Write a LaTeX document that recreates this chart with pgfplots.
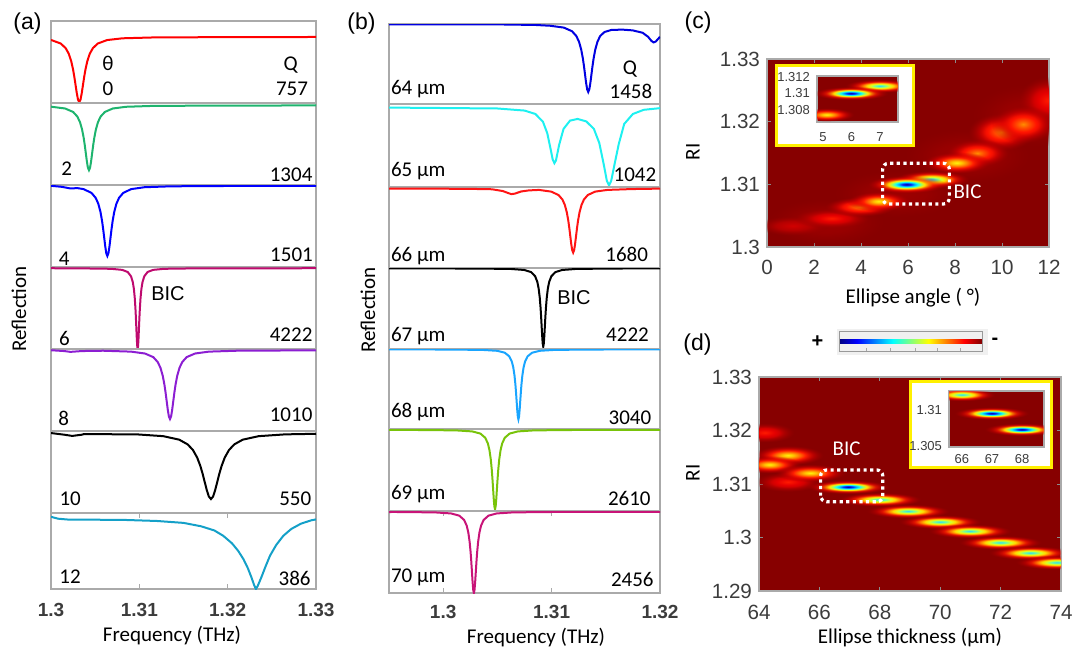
\documentclass[border=0pt]{standalone}
\usepackage{pgfplots}
\pgfplotsset{compat=1.18}
\usetikzlibrary{fadings}
\usepackage{fontspec}
\setmainfont{Carlito}
\newfontfamily\arial{Liberation Sans}
\newcommand{\lab}{\fontsize{10.5}{12}\selectfont}

\definecolor{cA1}{RGB}{255,0,0}
\definecolor{cA2}{RGB}{30,180,110}
\definecolor{cA3}{RGB}{0,0,255}
\definecolor{cA4}{RGB}{190,10,110}
\definecolor{cA5}{RGB}{140,30,210}
\definecolor{cA6}{RGB}{0,0,0}
\definecolor{cA7}{RGB}{20,160,200}
\definecolor{cB1}{RGB}{0,0,225}
\definecolor{cB2}{RGB}{30,240,240}
\definecolor{cB3}{RGB}{255,20,20}
\definecolor{cB4}{RGB}{0,0,0}
\definecolor{cB5}{RGB}{25,165,255}
\definecolor{cB6}{RGB}{120,195,10}
\definecolor{cB7}{RGB}{200,20,120}
\definecolor{bgred}{RGB}{135,0,0}
\definecolor{framegray}{RGB}{170,170,170}
\definecolor{ticktext}{RGB}{60,60,60}
\definecolor{insetyellow}{RGB}{255,240,0}

\pgfdeclareradialshading{spot5}{\pgfpointorigin}{rgb(0bp)=(0,0,0.6); rgb(3bp)=(0,0.2,1); rgb(5bp)=(0,0.7,1); rgb(7bp)=(0.1,1,0.95); rgb(9bp)=(0.6,1,0.4); rgb(11bp)=(1,0.9,0); rgb(13.5bp)=(1,0.5,0); rgb(16.5bp)=(1,0.1,0); rgb(20bp)=(0.85,0,0); rgb(25bp)=(0.6,0,0); rgb(50bp)=(0.6,0,0)}
\pgfdeclareradialshading{spot4}{\pgfpointorigin}{rgb(0bp)=(0.2,0.85,0.95); rgb(3.5bp)=(0.45,1,0.6); rgb(6.5bp)=(0.85,1,0.15); rgb(9bp)=(1,0.85,0); rgb(12bp)=(1,0.45,0); rgb(15.5bp)=(1,0.1,0); rgb(19.5bp)=(0.85,0,0); rgb(25bp)=(0.6,0,0); rgb(50bp)=(0.6,0,0)}
\pgfdeclareradialshading{spot3}{\pgfpointorigin}{rgb(0bp)=(1,0.95,0.05); rgb(4bp)=(1,0.75,0); rgb(8bp)=(1,0.45,0); rgb(12bp)=(1,0.12,0); rgb(18bp)=(0.85,0,0); rgb(25bp)=(0.6,0,0); rgb(50bp)=(0.6,0,0)}
\pgfdeclareradialshading{spot2}{\pgfpointorigin}{rgb(0bp)=(1,0.55,0); rgb(5bp)=(1,0.3,0); rgb(10bp)=(1,0.08,0); rgb(17bp)=(0.82,0,0); rgb(25bp)=(0.6,0,0); rgb(50bp)=(0.6,0,0)}
\pgfdeclareradialshading{spot1}{\pgfpointorigin}{rgb(0bp)=(1,0.1,0); rgb(8bp)=(0.9,0,0); rgb(16bp)=(0.74,0,0); rgb(25bp)=(0.6,0,0); rgb(50bp)=(0.6,0,0)}
\pgfdeclareradialshading{spot0}{\pgfpointorigin}{rgb(0bp)=(0.82,0,0); rgb(12bp)=(0.7,0,0); rgb(25bp)=(0.58,0,0); rgb(50bp)=(0.58,0,0)}
\pgfdeclareradialshading{spot9}{\pgfpointorigin}{rgb(0bp)=(0.62,0,0); rgb(25bp)=(0.56,0,0); rgb(50bp)=(0.56,0,0)}
\pgfdeclareradialshading{fadeshade}{\pgfpointorigin}{color(0bp)=(white); color(12bp)=(white); color(25bp)=(black); color(50bp)=(black)}
\pgfdeclarefading{spotfade}{\pgfuseshading{fadeshade}}
\pgfdeclarehorizontalshading{jetbar}{10bp}{rgb(0bp)=(0,0,0.5); rgb(25bp)=(0,0,0.5); rgb(31.25bp)=(0,0,1); rgb(43.75bp)=(0,1,1); rgb(56.25bp)=(1,1,0); rgb(68.75bp)=(1,0,0); rgb(75bp)=(0.5,0,0); rgb(100bp)=(0.5,0,0)}

\pgfdeclareplotmark{spot}{%
  \pgfscope
  \pgfpathellipse{\pgfpointorigin}{\pgfqpoint{\spotw pt}{0pt}}{\pgfqpoint{0pt}{\spoth pt}}%
  \pgfsetfadingforcurrentpath{spotfade}{}%
  \pgfshadepath{spot\spotlvl}{0}%
  \pgfusepath{discard}%
  \endpgfscope
}

\tikzset{bicbox/.style={white, line width=1.6pt, dash pattern=on 1.6pt off 1.7pt, rounded corners=3pt}}

\pgfplotsset{
  panel/.style={scale only axis, anchor=south west, xmin=1.3, xmax=1.33, ymin=0, ymax=1,
    width=132.5pt, xtick=\empty, ytick=\empty,
    axis line style={framegray, line width=0.6pt}},
  panelB/.style={panel, xmin=1.295, xmax=1.32, width=135.5pt},
  curve/.style={line width=1pt, no marks},
  freqticks/.style={tick align=inside, major tick length=2.5pt,
    tick style={framegray, line width=0.5pt},
    xticklabel style={font=\arial\bfseries\fontsize{9.5}{11}\selectfont, text=ticktext, anchor=center}},
  heat/.style={scale only axis, anchor=south west, axis background/.style={fill=bgred},
    axis line style={framegray, line width=0.6pt}, tick align=inside, major tick length=2pt,
    tick style={black!45, line width=0.4pt}, clip marker paths=true,
    tick label style={font=\arial\fontsize{10.3}{12}\selectfont, text=ticktext}},
  inset/.style={heat, major tick length=0pt, tick label style={font=\arial\fontsize{6.5}{7.5}\selectfont}},
  spots/.style={only marks, scatter, mark=spot,
    visualization depends on=value \thisrow{w}\as\spotw,
    visualization depends on=value \thisrow{h}\as\spoth,
    visualization depends on=value \thisrow{lvl}\as\spotlvl},
}

\begin{document}
\begin{tikzpicture}
\useasboundingbox (0,0) rectangle (538.5pt,325pt);

% ---------------- panel (a) ----------------
\begin{axis}[panel, at={(25.5pt,273.5pt)}, height=41pt]
\addplot[curve, cA1] coordinates {(1.3000,0.769)(1.3011,0.7255)(1.30166,0.669)(1.30201,0.601)(1.30229,0.510)(1.3025,0.4075)(1.30264,0.320)(1.30278,0.220)(1.30292,0.120)(1.30306,0.041)(1.3032,0.010)(1.30334,0.041)(1.30348,0.120)(1.30362,0.220)(1.30376,0.320)(1.3039,0.4075)(1.30411,0.510)(1.30439,0.601)(1.30474,0.669)(1.3053,0.7255)(1.30635,0.7676)(1.3081,0.789)(1.3116,0.7995)(1.3207,0.8037)(1.33,0.805)};
\end{axis}
\begin{axis}[panel, at={(25.5pt,232.5pt)}, height=41pt]
\addplot[curve, cA2] coordinates {(1.3000,0.955)(1.3016,0.933)(1.3025,0.891)(1.30298,0.835)(1.30328,0.767)(1.30352,0.676)(1.3037,0.575)(1.30382,0.488)(1.30394,0.389)(1.30406,0.289)(1.30418,0.210)(1.3043,0.18)(1.30442,0.210)(1.30454,0.289)(1.30466,0.389)(1.30478,0.488)(1.3049,0.575)(1.30508,0.676)(1.30532,0.767)(1.30562,0.835)(1.3061,0.891)(1.307,0.933)(1.3085,0.954)(1.3115,0.9645)(1.3193,0.9687)(1.33,0.97)};
\end{axis}
\begin{axis}[panel, at={(25.5pt,191.5pt)}, height=41pt]
\addplot[curve, cA3] coordinates {(1.3000,0.99)(1.3012,0.978)(1.3022,0.958)(1.3030,0.962)(1.30368,0.95)(1.30458,0.904)(1.30506,0.843)(1.30536,0.77)(1.3056,0.672)(1.30578,0.562)(1.3059,0.468)(1.30602,0.361)(1.30614,0.252)(1.30626,0.167)(1.30638,0.134)(1.3065,0.167)(1.30662,0.252)(1.30674,0.361)(1.30686,0.468)(1.30698,0.562)(1.30716,0.672)(1.3074,0.77)(1.3077,0.843)(1.30818,0.904)(1.30908,0.95)(1.31058,0.973)(1.31358,0.984)(1.32138,0.989)(1.33,0.99)};
\end{axis}
\begin{axis}[panel, at={(25.5pt,150.5pt)}, height=41pt]
\addplot[curve, cA4] coordinates {(1.3,0.985)(1.30356,0.983)(1.30681,0.978)(1.30806,0.965)(1.308685,0.939)(1.30906,0.8865)(1.30926,0.816)(1.309385,0.732)(1.309485,0.619)(1.30956,0.4925)(1.30961,0.384)(1.30966,0.261)(1.30971,0.136)(1.30976,0.038)(1.30981,0)(1.30986,0.038)(1.30991,0.136)(1.30996,0.261)(1.31001,0.384)(1.31006,0.4925)(1.310135,0.619)(1.310235,0.732)(1.31036,0.816)(1.31056,0.8865)(1.310935,0.939)(1.31156,0.965)(1.31281,0.978)(1.31606,0.983)(1.33,0.985)};
\end{axis}
\begin{axis}[panel, at={(25.5pt,109.5pt)}, height=41pt]
\addplot[curve, cA5] coordinates {(1.3,0.985)(1.3015,0.975)(1.3022,0.965)(1.3035,0.975)(1.30591,0.979)(1.30906,0.968)(1.310635,0.945)(1.31158,0.901)(1.312084,0.841)(1.312399,0.769)(1.312651,0.673)(1.31284,0.5655)(1.312966,0.473)(1.313092,0.368)(1.313218,0.262)(1.313344,0.178)(1.31347,0.146)(1.313596,0.178)(1.313722,0.262)(1.313848,0.368)(1.313974,0.473)(1.3141,0.5655)(1.314289,0.673)(1.314541,0.769)(1.314856,0.841)(1.31536,0.901)(1.316305,0.945)(1.31788,0.968)(1.32103,0.979)(1.33,0.984)};
\end{axis}
\begin{axis}[panel, at={(25.5pt,68.5pt)}, height=41pt]
\addplot[curve, cA6] coordinates {(1.3,0.975)(1.3015,0.955)(1.3024,0.94)(1.3035,0.955)(1.30371,0.962)(1.30971,0.959)(1.31271,0.937)(1.31451,0.8945)(1.31547,0.837)(1.31607,0.768)(1.31655,0.6758)(1.31691,0.5725)(1.31715,0.484)(1.31739,0.383)(1.31763,0.281)(1.31787,0.201)(1.31811,0.17)(1.31835,0.201)(1.31859,0.281)(1.31883,0.383)(1.31907,0.484)(1.31931,0.5725)(1.31967,0.6758)(1.32015,0.768)(1.32075,0.837)(1.32171,0.8945)(1.32351,0.937)(1.32651,0.959)(1.33,0.966)};
\end{axis}
\begin{axis}[panel, at={(25.5pt,30.5pt)}, height=38pt, freqticks,
  xtick={1.3,1.31,1.32,1.33}, xticklabels={1.3,1.31,1.32,1.33},
  xticklabel style={yshift=-10.5pt}]
\addplot[curve, cA7] coordinates {(1.3000,0.95)(1.3008,0.925)(1.3020,0.913)(1.3080,0.910)(1.3120,0.895)(1.3150,0.870)(1.3170,0.825)(1.3185,0.770)(1.3195,0.700)(1.3205,0.600)(1.3212,0.500)(1.3218,0.390)(1.3223,0.270)(1.3227,0.150)(1.3230,0.050)(1.3232,0.000)(1.3234,0.040)(1.3238,0.150)(1.3243,0.300)(1.3248,0.440)(1.3255,0.580)(1.3263,0.700)(1.3272,0.790)(1.3283,0.860)(1.3295,0.905)(1.3300,0.915)};
\end{axis}

% ---------------- panel (b) ----------------
\begin{axis}[panelB, at={(194.5pt,273pt)}, height=40pt]
\addplot[curve, cB1] coordinates {(1.295,0.996)(1.305,0.995)(1.3085,0.988)(1.30988,0.978)(1.31113,0.955)(1.31188,0.91)(1.31228,0.85)(1.31253,0.778)(1.31273,0.681)(1.31288,0.5725)(1.31298,0.48)(1.31308,0.374)(1.31318,0.267)(1.31328,0.183)(1.31338,0.15)(1.31348,0.183)(1.31358,0.267)(1.31368,0.374)(1.31378,0.48)(1.31388,0.5725)(1.31403,0.681)(1.31423,0.778)(1.31448,0.85)(1.31488,0.90)(1.3155,0.925)(1.3165,0.93)(1.3175,0.92)(1.3184,0.89)(1.3189,0.84)(1.3192,0.79)(1.3194,0.77)(1.3196,0.78)(1.3198,0.81)(1.3200,0.84)};
\end{axis}
\begin{axis}[panelB, at={(194.5pt,231.5pt)}, height=41.5pt]
\addplot[curve, cB2] coordinates {(1.295,0.957)(1.305,0.946)(1.3075,0.921)(1.3085,0.880)(1.3092,0.787)(1.3096,0.648)(1.3099,0.462)(1.3101,0.332)(1.31026,0.287)(1.3104,0.3195)(1.3107,0.51)(1.3111,0.70)(1.3117,0.80)(1.3124,0.82)(1.3132,0.79)(1.3139,0.70)(1.3144,0.53)(1.3148,0.279)(1.3151,0.073)(1.3153,0.019)(1.3155,0.075)(1.3158,0.27)(1.3162,0.52)(1.3167,0.76)(1.3175,0.88)(1.3185,0.93)(1.32,0.95)};
\end{axis}
\begin{axis}[panelB, at={(194.5pt,191pt)}, height=40.5pt]
\addplot[curve, cB3] coordinates {(1.295,0.98)(1.302,0.978)(1.3045,0.972)(1.3055,0.95)(1.3060,0.925)(1.30629,0.912)(1.3066,0.918)(1.3072,0.945)(1.3079,0.958)(1.30884,0.964)(1.309965,0.943)(1.31064,0.901)(1.311,0.845)(1.311225,0.777)(1.311405,0.686)(1.31154,0.585)(1.31163,0.498)(1.31172,0.399)(1.31181,0.299)(1.3119,0.2204)(1.31199,0.19)(1.31208,0.2204)(1.31217,0.299)(1.31226,0.399)(1.31235,0.498)(1.31244,0.585)(1.312575,0.686)(1.312755,0.777)(1.31298,0.845)(1.31334,0.901)(1.314015,0.943)(1.31514,0.964)(1.31739,0.9745)(1.32,0.98)};
\end{axis}
\begin{axis}[panelB, at={(194.5pt,150.5pt)}, height=40.5pt]
\addplot[curve, cB4] coordinates {(1.295,0.995)(1.30298,0.9935)(1.30623,0.9883)(1.30748,0.9757)(1.308105,0.9495)(1.30848,0.8985)(1.30868,0.83)(1.308805,0.747)(1.308905,0.636)(1.30898,0.5125)(1.30903,0.407)(1.30908,0.285)(1.30913,0.163)(1.30918,0.067)(1.30923,0.03)(1.30928,0.067)(1.30933,0.163)(1.30938,0.285)(1.30943,0.407)(1.30948,0.5125)(1.309555,0.636)(1.309655,0.747)(1.30978,0.83)(1.30998,0.8985)(1.310355,0.9495)(1.31098,0.9757)(1.31223,0.9883)(1.31548,0.9935)(1.32,0.995)};
\end{axis}
\begin{axis}[panelB, at={(194.5pt,110.5pt)}, height=40pt]
\addplot[curve, cB5] coordinates {(1.295,0.995)(1.29994,0.9936)(1.30358,0.989)(1.30498,0.9775)(1.30568,0.9538)(1.3061,0.9075)(1.306324,0.845)(1.306464,0.77)(1.306576,0.670)(1.30666,0.5575)(1.306716,0.461)(1.306772,0.352)(1.306828,0.241)(1.306884,0.154)(1.30694,0.12)(1.306996,0.154)(1.307052,0.241)(1.307108,0.352)(1.307164,0.461)(1.30722,0.5575)(1.307304,0.670)(1.307416,0.77)(1.307556,0.845)(1.30778,0.9075)(1.3082,0.9538)(1.3089,0.9775)(1.3103,0.989)(1.31394,0.9936)(1.32,0.995)};
\end{axis}
\begin{axis}[panelB, at={(194.5pt,69.5pt)}, height=41pt]
\addplot[curve, cB6] coordinates {(1.295,0.988)(1.29728,0.9884)(1.30118,0.9833)(1.30268,0.9706)(1.30343,0.9443)(1.30388,0.893)(1.30412,0.824)(1.30427,0.7406)(1.30439,0.6295)(1.30448,0.505)(1.30454,0.3985)(1.3046,0.2768)(1.30466,0.1538)(1.30472,0.0573)(1.30478,0.02)(1.30484,0.0573)(1.3049,0.1538)(1.30496,0.2768)(1.30502,0.3985)(1.30508,0.505)(1.30517,0.6295)(1.30529,0.7406)(1.30544,0.824)(1.30568,0.893)(1.30613,0.9443)(1.30688,0.9706)(1.30838,0.9833)(1.31228,0.9884)(1.32,0.99)};
\end{axis}
\begin{axis}[panelB, at={(194.5pt,28.5pt)}, height=41pt, freqticks,
  xtick={1.3,1.31,1.32}, xticklabels={1.3,1.31,1.32},
  xticklabel style={yshift=-9.3pt}]
\addplot[curve, cB7] coordinates {(1.295,0.987)(1.29533,0.9884)(1.29923,0.9832)(1.30073,0.9702)(1.30148,0.9434)(1.30193,0.891)(1.30217,0.8205)(1.30232,0.7355)(1.30244,0.622)(1.30253,0.495)(1.30259,0.386)(1.30265,0.262)(1.30271,0.1365)(1.30277,0.038)(1.30283,0)(1.30289,0.038)(1.30295,0.1365)(1.30301,0.262)(1.30307,0.386)(1.30313,0.495)(1.30322,0.622)(1.30334,0.7355)(1.30349,0.8205)(1.30373,0.891)(1.30418,0.9434)(1.30493,0.9702)(1.30643,0.9832)(1.31033,0.9884)(1.32,0.99)};
\end{axis}

% ---------------- panel (c) ----------------
\begin{axis}[heat, at={(383.5pt,201.5pt)}, width=141pt, height=94pt,
  xmin=0, xmax=12, ymin=1.3, ymax=1.33,
  xtick={0,2,4,6,8,10,12}, xticklabels={0,2,4,6,8,10,12},
  ytick={1.3,1.31,1.32,1.33}, yticklabels={1.3,1.31,1.32,1.33},
  xticklabel style={anchor=center, yshift=-10pt}]
\addplot[spots] table {
x y w h lvl
2.5 1.3040 30 12 9
5.5 1.3085 32 12 9
8.5 1.3145 32 14 9
11.2 1.3210 30 16 9
1.1 1.3034 18 5 0
2.75 1.30458 19 5 1
11.95 1.3234 15 12 1
3.96 1.30643 18 5 2
9.98 1.31838 17 9.5 2
10.9 1.3196 16 9.5 2
8.95 1.3150 16 7 2
4.75 1.3073 16 5 3
8.07 1.31345 17 5.5 3
7.01 1.3108 19 4.5 4
5.94 1.3100 20 4.5 5
};
\draw[bicbox] (axis cs:4.92,1.30686) rectangle (axis cs:7.76,1.31336);
\end{axis}
\draw[insetyellow, line width=1.5pt, fill=white] (388pt,252.5pt) rectangle (456.5pt,292.5pt);
\begin{axis}[inset, at={(408.5pt,264pt)}, width=40.5pt, height=23pt,
  xmin=4.79, xmax=7.63, ymin=1.3065, ymax=1.3121,
  xtick={5,6,7}, xticklabels={5,6,7},
  ytick={1.308,1.31,1.312}, yticklabels={1.308,1.31,1.312},
  xticklabel style={anchor=center, yshift=-7.5pt}]
\addplot[spots] table {
x y w h lvl
5.13 1.3074 14 3.5 3
7.0 1.3109 18 3.5 4
5.98 1.3100 19 3.5 5
};
\end{axis}

% ---------------- panel (d) ----------------
\begin{axis}[heat, at={(379.5pt,29.5pt)}, width=151pt, height=107pt,
  xmin=64, xmax=74, ymin=1.29, ymax=1.33,
  xtick={64,66,68,70,72,74}, xticklabels={64,66,68,70,72,74},
  ytick={1.29,1.3,1.31,1.32,1.33}, yticklabels={1.29,1.3,1.31,1.32,1.33},
  xticklabel style={anchor=center, yshift=-10.5pt}]
\addplot[spots] table {
x y w h lvl
64.19 1.31961 15 5 1
64.96 1.3104 17 5 1
64.96 1.31538 18 5 3
64.35 1.31364 16 4.5 3
65.7 1.31208 18 4.5 3
68.94 1.30493 21 3.6 4
70.0 1.30294 21 3.6 4
70.99 1.3012 21 3.6 4
71.99 1.29908 21 3.6 4
72.98 1.29715 21 3.6 4
73.87 1.29535 21 3.6 4
68.0 1.30711 21 3.6 4
66.95 1.30947 21 3.6 5
};
\draw[bicbox] (axis cs:66.04,1.30669) rectangle (axis cs:68.1,1.31262);
\end{axis}
\draw[insetyellow, line width=1.5pt, fill=white] (455pt,91.5pt) rectangle (525.5pt,134.5pt);
\begin{axis}[inset, at={(474.5pt,101.5pt)}, width=47.5pt, height=28pt,
  xmin=65.57, xmax=68.73, ymin=1.3049, ymax=1.3126,
  xtick={66,67,68}, xticklabels={66,67,68},
  ytick={1.305,1.31}, yticklabels={1.305,1.31},
  xticklabel style={anchor=center, yshift=-6pt}]
\addplot[spots] table {
x y w h lvl
68.8 1.3052 14 3.3 3
66.0 1.3121 17 3.3 4
67.99 1.30732 19 3.3 5
66.99 1.30954 19 3.3 5
};
\end{axis}

% colour bar
\fill[gray!12] (418.5pt,147.5pt) rectangle (494pt,160.5pt);
\shade[shading=jetbar] (419.5pt,149.5pt) rectangle (491pt,159.5pt);
\draw[gray!80, line width=0.4pt] (419.5pt,149.5pt) rectangle (491pt,159.5pt);
\foreach \tx in {433.3,445,457.5,468.7,480}{\draw[gray!70, line width=0.3pt] (\tx pt,149.5pt) -- (\tx pt,151pt);}
\node[font=\arial\bfseries\fontsize{10}{12}\selectfont] at (408.75pt,154pt) {+};
\node[font=\arial\bfseries\fontsize{10}{12}\selectfont] at (497.5pt,154.2pt) {-};

% ---------------- texts ----------------
\node[font=\arial\fontsize{11.5}{13}\selectfont] at (13.75pt,313.3pt) {(a)};
\node[font=\arial\fontsize{11.5}{13}\selectfont] at (180.75pt,313.3pt) {(b)};
\node[font=\arial\fontsize{11.5}{13}\selectfont] at (349pt,313.7pt) {(c)};
\node[font=\arial\fontsize{11.5}{13}\selectfont] at (348.75pt,152.5pt) {(d)};

\node[font=\lab, rotate=90] at (9.5pt,170.5pt) {Reflection};
\node[font=\lab, rotate=90] at (184pt,170pt) {Reflection};
\node[font=\lab, anchor=base] at (86pt,4.5pt) {Frequency (THz)};
\node[font=\lab, anchor=base] at (268pt,3.5pt) {Frequency (THz)};
\node[font=\lab, anchor=base] at (456.5pt,173.5pt) {Ellipse angle ( °)};
\node[font=\lab, anchor=base] at (455pt,3.5pt) {Ellipse thickness (µm)};
\node[font=\lab, rotate=90] at (346.5pt,249pt) {RI};
\node[font=\lab, rotate=90] at (346.5pt,88.5pt) {RI};

% (a) labels
\begin{scope}[every node/.style={font=\lab, inner sep=0pt}]
\node[anchor=base] at (54pt,290pt) {θ};
\node[anchor=base] at (54pt,277.5pt) {0};
\node[anchor=base] at (145.4pt,289.7pt) {Q};
\node[anchor=base east] at (154.2pt,277.5pt) {757};
\node[anchor=base west] at (30.5pt,237.5pt) {2};
\node[anchor=base east] at (156.4pt,234.2pt) {1304};
\node[anchor=base west] at (29.2pt,192.5pt) {4};
\node[anchor=base east] at (156.6pt,194.2pt) {1501};
\node[anchor=base west] at (29.3pt,152.5pt) {6};
\node[anchor=base east] at (156.4pt,154.2pt) {4222};
\node[anchor=base west] at (29pt,112.5pt) {8};
\node[anchor=base east] at (156.4pt,114.5pt) {1010};
\node[anchor=base west] at (29.6pt,72.2pt) {10};
\node[anchor=base east] at (155.8pt,72.5pt) {550};
\node[anchor=base west] at (29.5pt,33.3pt) {12};
\node[anchor=base east] at (155.5pt,32.5pt) {386};
\node[anchor=base, font=\arial\fontsize{10}{12}\selectfont] at (84pt,175pt) {BIC};
% (b) labels
\node[anchor=base west] at (195.3pt,278pt) {64 µm};
\node[anchor=base] at (315pt,287.5pt) {Q};
\node[anchor=base east] at (326.3pt,275.8pt) {1458};
\node[anchor=base west] at (195.3pt,237pt) {65 µm};
\node[anchor=base east] at (328.3pt,234.2pt) {1042};
\node[anchor=base west] at (195.3pt,194.5pt) {66 µm};
\node[anchor=base east] at (324.2pt,194.2pt) {1680};
\node[anchor=base, font=\arial\fontsize{10}{12}\selectfont] at (287pt,173pt) {BIC};
\node[anchor=base west] at (195.3pt,154.2pt) {67 µm};
\node[anchor=base east] at (324.6pt,154.2pt) {4222};
\node[anchor=base west] at (195.3pt,116.2pt) {68 µm};
\node[anchor=base east] at (325.8pt,113pt) {3040};
\node[anchor=base west] at (195.3pt,75.3pt) {69 µm};
\node[anchor=base east] at (325.5pt,72.2pt) {2610};
\node[anchor=base west] at (195.3pt,33.7pt) {70 µm};
\node[anchor=base east] at (327pt,31.7pt) {2456};
% heat map labels
\node[anchor=base, text=white] at (483.75pt,225.8pt) {BIC};
\node[anchor=base, text=white] at (423.3pt,97.5pt) {BIC};
\end{scope}
\end{tikzpicture}
\end{document}
